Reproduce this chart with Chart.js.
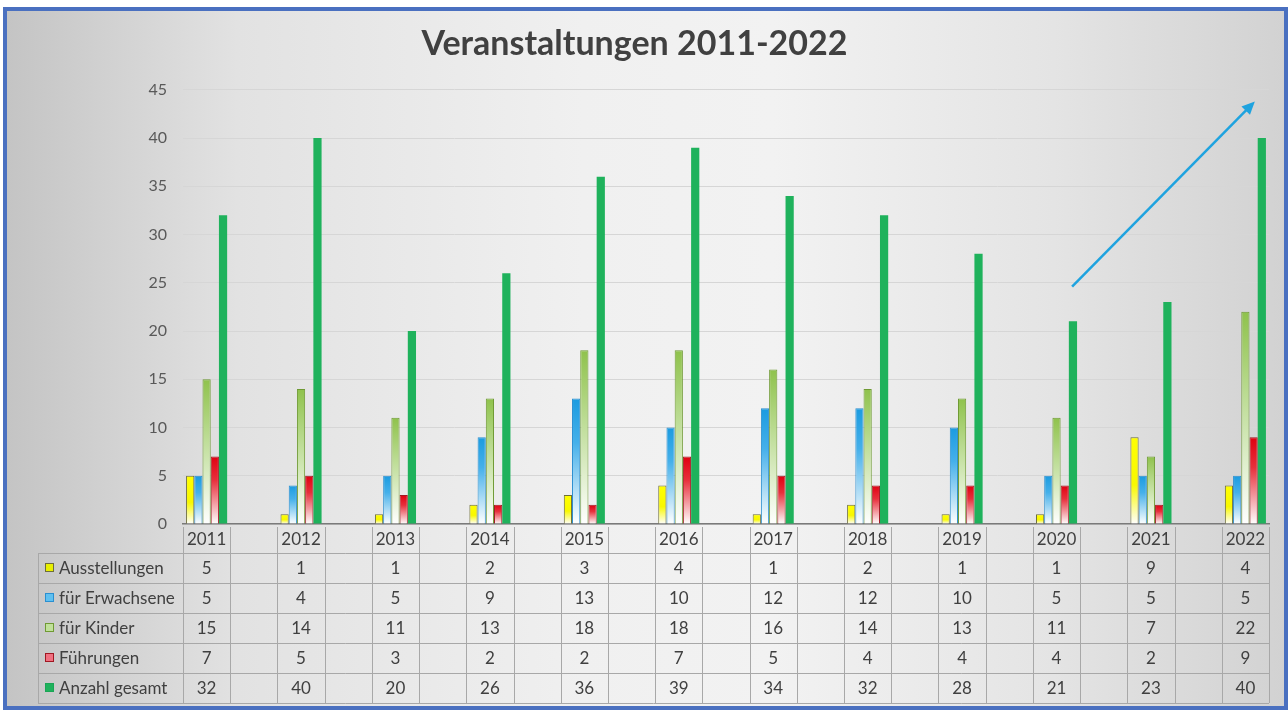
<!DOCTYPE html>
<html>
<head>
<meta charset="utf-8">
<script src="https://cdn.jsdelivr.net/npm/chart.js@4/dist/chart.umd.min.js"></script>
<style>
    html, body { margin: 0; padding: 0; background: #fff; }
    #frame {
        position: absolute; left: 3px; top: 7px; width: 1277px; height: 695px;
        border: 4px solid #4a70c0;
        background: linear-gradient(to right, #c4c4c4 0%, #e2e2e2 18%, #f0f0f0 45%, #f2f2f2 60%, #e4e4e4 82%, #d2d2d2 100%);
    }
    #wrap { position: absolute; left: 0; top: 0; width: 1288px; height: 711px; }
</style>
</head>
<body>
<div id="frame"></div>
<div id="wrap"><canvas id="chart"></canvas></div>
<script>
const years = ['2011', '2012', '2013', '2014', '2015', '2016', '2017', '2018', '2019', '2020', '2021', '2022'];
const ausstellungen = [5, 1, 1, 2, 3, 4, 1, 2, 1, 1, 9, 4];
const erwachsene = [5, 4, 5, 9, 13, 10, 12, 12, 10, 5, 5, 5];
const kinder = [15, 14, 11, 13, 18, 18, 16, 14, 13, 11, 7, 22];
const fuehrungen = [7, 5, 3, 2, 2, 7, 5, 4, 4, 4, 2, 9];
const gesamt = [32, 40, 20, 26, 36, 39, 34, 32, 28, 21, 23, 40];
const yTicks = [0, 5, 10, 15, 20, 25, 30, 35, 40, 45];

const FONT = 'Lato, "Open Sans", sans-serif';

// the sheet has an empty column after every year, so spread the data over 23 slots
function spread(arr, blank) {
    const out = [];
    arr.forEach((v, i) => {
        out.push(v);
        if (i < arr.length - 1) out.push(blank);
    });
    return out;
}
const labels = spread(years, '');

// vertical gradient from the top of the bar down to white at the base
function barGradient(stops) {
    return (ctx) => {
        const chart = ctx.chart;
        if (!chart.chartArea || ctx.type !== 'data' || ctx.raw == null) return stops[0][1];
        const yScale = chart.scales.y;
        const top = yScale.getPixelForValue(ctx.raw);
        const base = yScale.getPixelForValue(0);
        if (base - top < 1) return stops[0][1];
        const g = chart.ctx.createLinearGradient(0, top, 0, base);
        stops.forEach(s => g.addColorStop(s[0], s[1]));
        return g;
    };
}

const series = [
    { label: 'Ausstellungen', values: ausstellungen, border: '#6e6e3a',
      stops: [[0, '#ffff00'], [0.55, '#f8f800'], [1, '#ffffff']], key: '#e8f000' },
    { label: 'für Erwachsene', values: erwachsene, border: '#2a8fd0',
      stops: [[0, '#1b9be0'], [0.35, '#45b0ea'], [1, '#ffffff']], key: '#5fc0f0' },
    { label: 'für Kinder', values: kinder, border: '#6f9a34',
      stops: [[0, '#8fc24c'], [0.4, '#bcdc94'], [1, '#ffffff']], key: '#c0e09a' },
    { label: 'Führungen', values: fuehrungen, border: '#a01822',
      stops: [[0, '#e00010'], [0.35, '#e8303c'], [1, '#ffffff']], key: '#f07080' },
    { label: 'Anzahl gesamt', values: gesamt, border: '#1aa555',
      stops: [[0, '#1fb25c'], [1, '#1fb25c']], key: '#1fb25c' }
];

// data table under the plot, aligned to the x scale
const tablePlugin = {
    id: 'dataTable',
    afterDraw(chart) {
        const { ctx, scales: { x }, chartArea } = chart;
        const step = x.getPixelForValue(1) - x.getPixelForValue(0);
        const left = 38;
        const x0 = chartArea.left;
        const x1 = chartArea.right;
        const headTop = chartArea.bottom + 3;
        const rowTop = chartArea.bottom + 29;
        const rowH = 30;
        const n = series.length;
        ctx.save();
        ctx.strokeStyle = '#a8a8a8';
        ctx.lineWidth = 1;
        ctx.beginPath();
        for (let i = 0; i <= labels.length; i++) {
            const px = Math.round(x0 + i * step) + 0.5;
            ctx.moveTo(px, headTop);
            ctx.lineTo(px, rowTop + n * rowH);
        }
        ctx.moveTo(left + 0.5, rowTop);
        ctx.lineTo(left + 0.5, rowTop + n * rowH);
        for (let r = 0; r <= n; r++) {
            const py = Math.round(rowTop + r * rowH) + 0.5;
            ctx.moveTo(left, py);
            ctx.lineTo(x1, py);
        }
        ctx.stroke();

        ctx.font = '17px ' + FONT;
        ctx.textBaseline = 'middle';
        series.forEach((s, r) => {
            const cy = rowTop + r * rowH + rowH / 2;
            ctx.fillStyle = s.key;
            ctx.fillRect(46, cy - 4, 7, 7);
            ctx.strokeStyle = s.border;
            ctx.strokeRect(45.5, cy - 4.5, 8, 8);
            ctx.fillStyle = '#404040';
            ctx.textAlign = 'left';
            ctx.fillText(s.label, 59, cy + 1);
            ctx.textAlign = 'center';
            s.values.forEach((v, i) => {
                ctx.fillText(String(v), x.getPixelForValue(i * 2), cy + 1);
            });
        });
        ctx.restore();
    }
};

// the blue trend arrow, placed in data units
const arrowPlugin = {
    id: 'trendArrow',
    afterDatasetsDraw(chart) {
        const { ctx, scales: { x, y } } = chart;
        const sx = x.getPixelForValue(18.33), sy = y.getPixelForValue(24.6);
        const ex = x.getPixelForValue(22.2), ey = y.getPixelForValue(43.8);
        const ang = Math.atan2(ey - sy, ex - sx);
        ctx.save();
        ctx.strokeStyle = '#1fa3df';
        ctx.fillStyle = '#1fa3df';
        ctx.lineWidth = 2.5;
        ctx.beginPath();
        ctx.moveTo(sx, sy);
        ctx.lineTo(ex - 8 * Math.cos(ang), ey - 8 * Math.sin(ang));
        ctx.stroke();
        ctx.beginPath();
        ctx.moveTo(ex, ey);
        ctx.lineTo(ex - 13 * Math.cos(ang) + 6 * Math.sin(ang), ey - 13 * Math.sin(ang) - 6 * Math.cos(ang));
        ctx.lineTo(ex - 13 * Math.cos(ang) - 6 * Math.sin(ang), ey - 13 * Math.sin(ang) + 6 * Math.cos(ang));
        ctx.closePath();
        ctx.fill();
        ctx.restore();
    }
};

new Chart(document.getElementById('chart'), {
    type: 'bar',
    data: {
        labels: labels,
        datasets: series.map(s => ({
            label: s.label,
            data: spread(s.values, null),
            backgroundColor: barGradient(s.stops),
            borderColor: s.border,
            borderWidth: s.label === 'Anzahl gesamt' ? 0 : 1,
            categoryPercentage: 0.87,
            barPercentage: 1
        }))
    },
    options: {
        responsive: true,
        maintainAspectRatio: false,
        animation: false,
        layout: { padding: { left: 0, right: 19, top: 0, bottom: 0 } },
        plugins: {
            legend: { display: false },
            tooltip: { enabled: false },
            title: {
                display: true,
                text: 'Veranstaltungen 2011-2022',
                color: '#404040',
                font: { family: FONT, size: 34, weight: 'bold' },
                padding: { top: 24, bottom: 25 }
            }
        },
        scales: {
            x: {
                grid: { display: false, drawTicks: false },
                border: { display: true, color: '#7a7a7a', width: 1.5 },
                ticks: {
                    color: '#404040',
                    font: { family: FONT, size: 17 },
                    padding: 5,
                    autoSkip: false,
                    maxRotation: 0
                },
                afterFit: s => { s.height = 187; }
            },
            y: {
                min: 0,
                max: 45,
                afterBuildTicks: s => { s.ticks = yTicks.map(v => ({ value: v })); },
                grid: { color: '#d6d6d6', drawTicks: false },
                border: { display: false },
                ticks: {
                    color: '#595959',
                    font: { family: FONT, size: 16 },
                    padding: 16
                },
                afterFit: s => { s.width = 183; }
            }
        }
    },
    plugins: [tablePlugin, arrowPlugin]
});
</script>
</body>
</html>
